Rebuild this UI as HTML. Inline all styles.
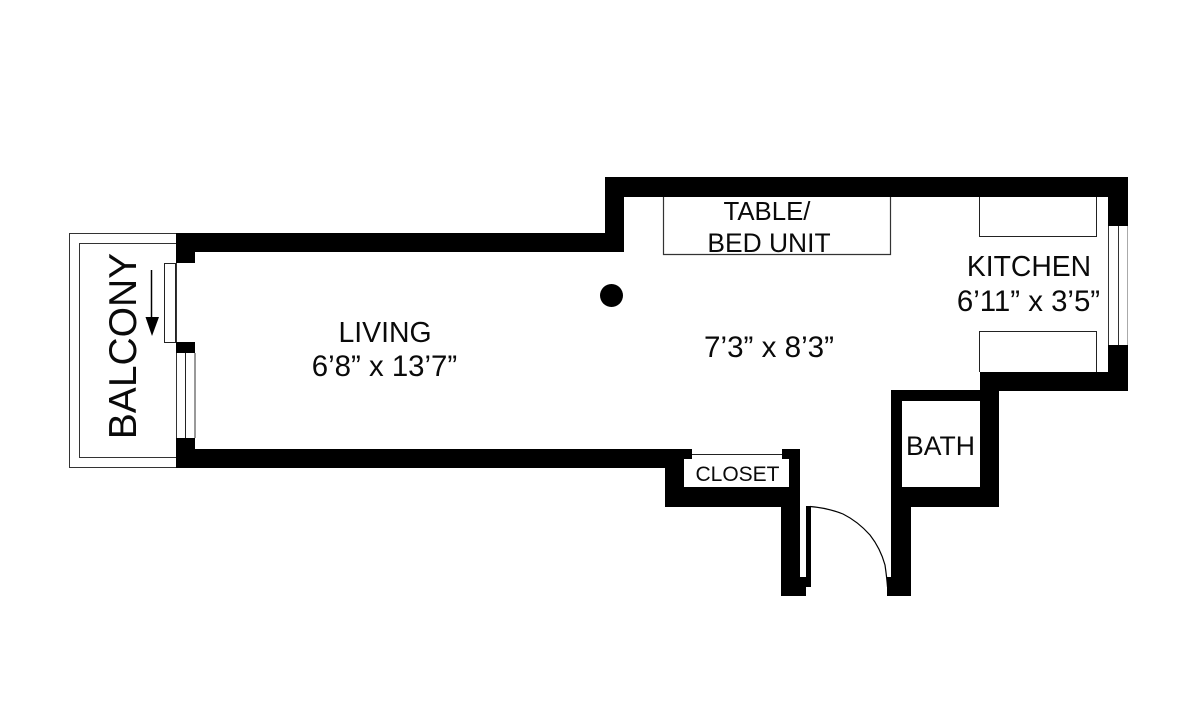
<!DOCTYPE html>
<html>
<head>
<meta charset="utf-8">
<style>
html,body{margin:0;padding:0;background:#fff;width:1200px;height:706px;overflow:hidden}
svg{display:block}
text{font-family:"Liberation Sans",sans-serif;fill:#0a0a0a}
</style>
</head>
<body>
<svg width="1200" height="706" viewBox="0 0 1200 706" xmlns="http://www.w3.org/2000/svg">
<rect width="1200" height="706" fill="#fff"/>
<!-- balcony -->
<rect x="69.500" y="233.500" width="107" height="234" fill="none" stroke="#333" stroke-width="1"/>
<rect x="79.500" y="243.500" width="97" height="214" fill="none" stroke="#333" stroke-width="1"/>
<!-- main walls -->
<path fill="#000" d="M176 233H605V177H1128V226H1108V197H624V252H195V263H176Z"/>
<path fill="#000" d="M1108 345H1128V391H999V507H911V596H887V577H891V390H980V372H1108Z M902 401V487H980V401Z" fill-rule="evenodd"/>
<path fill="#000" d="M176 342H195V353H176Z"/>
<path fill="#000" d="M176 438H195V449H692V459H684V487H789V459H782V449H800V577H806V596H781V507H665V468H176Z"/>
<!-- door leaf and arc -->
<rect x="806" y="506" width="5" height="81" fill="#000"/>
<path d="M810 506.500C822 507.500 833 510 843 514C853 519 862 526 870 535C877 544 882 554 885 565C886 572 887 580 887.500 587" fill="none" stroke="#000" stroke-width="1.200"/>
<!-- closet top line -->
<line x1="692" y1="454.500" x2="782" y2="454.500" stroke="#222" stroke-width="1"/>
<!-- balcony sliding door -->
<rect x="164.500" y="263.500" width="11" height="79" fill="#fff" stroke="#222" stroke-width="1"/>
<!-- balcony window -->
<line x1="176.500" y1="353" x2="176.500" y2="438" stroke="#333" stroke-width="1"/>
<line x1="185.500" y1="353" x2="185.500" y2="438" stroke="#222" stroke-width="1"/>
<line x1="195" y1="353" x2="195" y2="438" stroke="#333" stroke-width="1"/>
<!-- kitchen window -->
<line x1="1108.500" y1="226" x2="1108.500" y2="345" stroke="#333" stroke-width="1"/>
<line x1="1118.500" y1="226" x2="1118.500" y2="345" stroke="#333" stroke-width="1"/>
<line x1="1127.500" y1="226" x2="1127.500" y2="345" stroke="#aaa" stroke-width="1"/>
<!-- arrow -->
<line x1="151.500" y1="270" x2="151.500" y2="320" stroke="#000" stroke-width="1.500"/>
<path d="M145.500 317H159L152 336Z" fill="#000"/>
<!-- table unit -->
<path d="M663.500 197V254.500H890.500V197" fill="none" stroke="#333" stroke-width="1.200"/>
<!-- column -->
<circle cx="611.500" cy="295.500" r="11.500" fill="#000"/>
<!-- counters -->
<path d="M979.500 197V236.500H1096.500V197" fill="none" stroke="#222" stroke-width="1"/>
<path d="M979.500 372V331.500H1096.500V372" fill="none" stroke="#222" stroke-width="1"/>
<!-- labels -->
<text x="767" y="220" font-size="25.800" text-anchor="middle">TABLE/</text>
<text x="769" y="252" font-size="26.400" text-anchor="middle">BED UNIT</text>
<text x="1029" y="276" font-size="28.300" text-anchor="middle">KITCHEN</text>
<text x="1028.500" y="311" font-size="29.400" text-anchor="middle">6’11” x 3’5”</text>
<text x="385" y="342" font-size="28.400" text-anchor="middle">LIVING</text>
<text x="384.500" y="376" font-size="29.400" text-anchor="middle">6’8” x 13’7”</text>
<text x="769" y="357" font-size="29.600" text-anchor="middle">7’3” x 8’3”</text>
<text x="940.500" y="455" font-size="26.600" text-anchor="middle">BATH</text>
<text x="737.500" y="481" font-size="21" text-anchor="middle">CLOSET</text>
<text transform="translate(136 346) rotate(-90)" font-size="39" text-anchor="middle">BALCONY</text>
</svg>
</body>
</html>
